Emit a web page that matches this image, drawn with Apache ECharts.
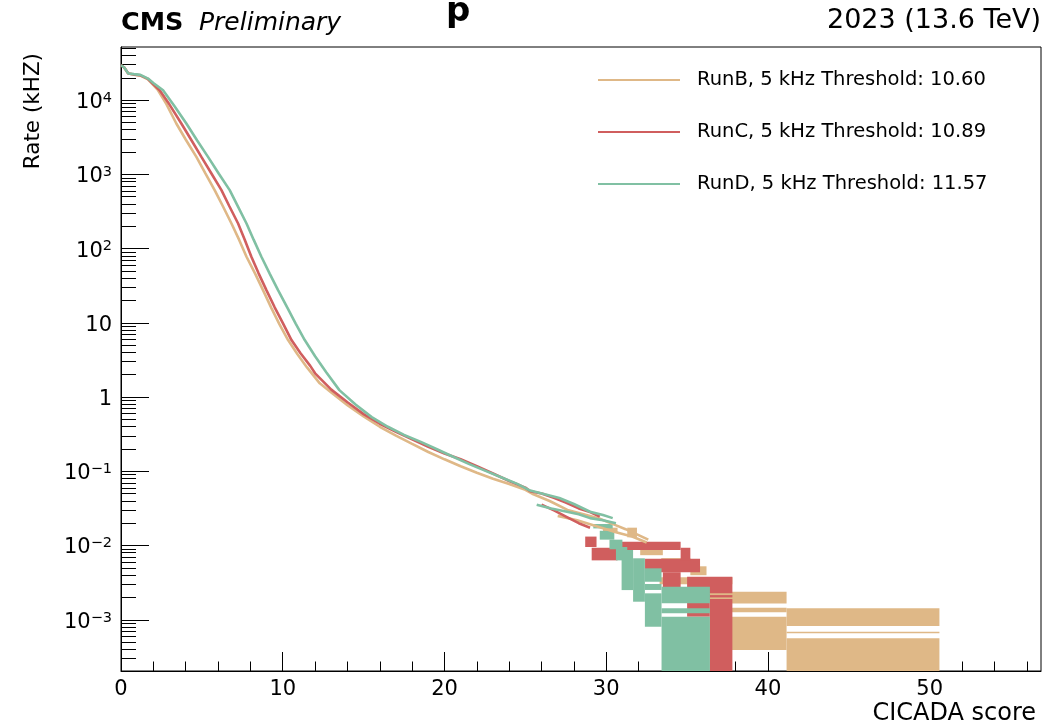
<!DOCTYPE html>
<html>
<head>
<meta charset="utf-8">
<script src="https://cdn.jsdelivr.net/npm/echarts@6/dist/echarts.min.js"></script>
<style>
html,body{margin:0;padding:0;background:#fff;}
#chart{width:1058px;height:728px;}
</style>
</head>
<body>
<div id="chart"></div>
<script>
// ---------- data (score, rate in kHz) ----------
const runNames = ['RunB, 5 kHz Threshold: 10.60', 'RunC, 5 kHz Threshold: 10.89', 'RunD, 5 kHz Threshold: 11.57'];
const runColors = ['#dfb887', '#d05e5e', '#80c0a3'];

const xMajorTicks = [0, 10, 20, 30, 40, 50];
const xMinorTicks = [2, 4, 6, 8, 12, 14, 16, 18, 22, 24, 26, 28, 32, 34, 36, 38, 42, 44, 46, 48, 52, 54, 56];
const yDecades = [-3, -2, -1, 0, 1, 2, 3, 4];   // tick labels 10^n

const runBCurve = [[0,29500],[0.2,27500],[0.45,22900],[0.8,22100],[1.2,21400],[1.67,19100],[2.29,13600],[2.8,8900],[3.42,4850],[4.0,2950],[4.66,1720],[5.2,1050],[5.79,614],[6.3,372],[6.83,218],[7.3,132],[7.76,77.6],[8.3,45.7],[8.78,27.6],[9.3,15.8],[9.8,9.55],[10.33,5.86],[10.9,3.80],[11.5,2.51],[12.29,1.53],[13.0,1.15],[14.0,0.776],[15.0,0.550],[16.0,0.398],[17.0,0.302],[18.0,0.234],[19.0,0.182],[20.0,0.145],[21.0,0.117],[22.0,0.0955],[23.0,0.0794],[24.0,0.0676],[25.0,0.0562],[25.5,0.0490],[26.5,0.0398],[27.6,0.0302],[28.6,0.0263],[29.6,0.0229],[30.5,0.0191],[31.2,0.0166],[32.0,0.0138],[32.6,0.0120]];
const runBLower = [[27.0,0.0251],[28.2,0.0219],[29.4,0.0182],[30.6,0.0151],[31.6,0.0132],[32.5,0.0110]];
const runBBoxes = [ // [score from, score to, rate low, rate high]
  [29.8,30.7,0.0148,0.0174],[31.3,31.9,0.0129,0.0174],[32.1,33.5,0.00741,0.00871],[33.4,35.2,0.00575,0.00676],
  [35.2,36.2,0.00398,0.00525],[33.3,37.8,0.00300,0.00375],
  [36.4,41.15,0.00166,0.00239],[36.4,41.15,0.00126,0.00145],[36.4,41.15,0.000392,0.00110],
  [41.15,50.6,0.000824,0.00143],[41.15,50.6,0.000656,0.000690],[41.15,50.6,0,0.000562]];

const runCCurve = [[0,29500],[0.2,27500],[0.45,22900],[0.8,22100],[1.2,21600],[1.67,19300],[2.39,13600],[3.0,8710],[3.73,4850],[4.3,3020],[4.97,1720],[5.6,1020],[6.21,614],[6.7,372],[7.24,218],[7.65,132],[8.06,77.6],[8.5,46.8],[8.99,27.6],[9.5,16.2],[10.0,10.0],[10.54,5.86],[11.1,3.89],[11.7,2.63],[12.0,2.09],[13.0,1.26],[14.0,0.851],[15.0,0.589],[16.0,0.437],[17.0,0.339],[18.0,0.269],[19.0,0.214],[20.0,0.174],[21.0,0.145],[22.0,0.117],[23.0,0.0933],[24.0,0.0741],[25.0,0.0603],[25.3,0.0537],[26.0,0.0501],[26.8,0.0437],[27.5,0.0380],[28.3,0.0316],[29.0,0.0282],[29.6,0.0245]];
const runCLower = [[26.0,0.0355],[26.8,0.0295],[27.6,0.0240],[28.3,0.0200],[29.0,0.0174]];
const runCBoxes = [
  [28.7,29.4,0.00955,0.0132],[29.1,30.7,0.00631,0.00933],[30.8,34.6,0.00871,0.0112],[32.4,35.8,0.00437,0.00661],
  [33.5,34.6,0.00275,0.00437],[34.6,35.2,0.00631,0.00933],[35.0,37.8,0.00227,0.00380],[35.0,36.4,0.00110,0.00227],
  [36.4,37.8,0.00200,0.00215],[36.4,37.8,0,0.00191]];

const runDCurve = [[0,29500],[0.2,27500],[0.45,22900],[0.8,22400],[1.2,21900],[1.67,19500],[2.0,17000],[2.6,13600],[3.3,8320],[4.04,4850],[4.7,2880],[5.38,1720],[6.05,1020],[6.72,614],[7.25,363],[7.76,218],[8.2,132],[8.68,77.6],[9.2,45.7],[9.71,27.6],[10.3,15.8],[10.8,9.77],[11.36,5.86],[12.0,3.55],[12.7,2.14],[13.5,1.24],[14.5,0.794],[15.5,0.537],[16.5,0.398],[17.5,0.309],[18.5,0.251],[19.5,0.200],[20.5,0.158],[21.5,0.126],[22.5,0.102],[23.5,0.0832],[24.5,0.0676],[25.3,0.0550],[26.2,0.0490],[27.1,0.0437],[28.0,0.0363],[29.0,0.0285],[29.8,0.0257],[30.4,0.0234]];
const runDLower = [[25.7,0.0355],[26.6,0.0316],[27.5,0.0288],[28.3,0.0263],[29.0,0.0234],[29.8,0.0219],[30.6,0.0200]];
const runDBoxes = [
  [29.2,30.4,0.0170,0.0195],[29.6,30.5,0.0120,0.0158],[30.2,31.0,0.00891,0.0120],[30.6,31.3,0.00631,0.00955],
  [30.95,31.66,0.00251,0.00871],[31.66,32.39,0.00175,0.00673],
  [32.39,33.42,0.000805,0.00227],[32.39,33.42,0.00252,0.00303],[32.39,33.42,0.00325,0.00493],
  [33.42,36.41,0,0.00110],[33.42,36.41,0.00122,0.00143],[33.42,36.41,0.00167,0.00279]];

// ---------- axis ranges ----------
const RATE_MIN = 2.04e-4, RATE_MAX = 5.2e4;
const X_MIN = 0, X_MAX = 56.88;

// ---------- helpers ----------
const FONT = '"DejaVu Sans", "Liberation Sans", Arial, sans-serif';
const Y_MIN = Math.log10(RATE_MIN), Y_MAX = Math.log10(RATE_MAX);
function lg(v) { return v > 0 ? Math.log10(v) : Y_MIN - 0.5; }

const yMinorTicks = [];
for (let n = -4; n <= 4; n++) {
  for (let k = 2; k <= 9; k++) {
    const v = Math.log10(k) + n;
    if (v > Y_MIN && v < Y_MAX) yMinorTicks.push(v);
  }
}

function decadeLabel(v) {
  const e = Math.round(v);
  if (e === 0) return '{b|1}';
  if (e === 1) return '{b|10}';
  return '{b|10}{s|' + (e < 0 ? '\u2212' + (-e) : String(e)) + '}';
}

function lineSeries(name, pts, color) {
  return {
    type: 'line', name: name, xAxisIndex: 0, yAxisIndex: 0,
    data: pts.map(p => [p[0], lg(p[1])]),
    symbol: 'none', showSymbol: false, smooth: false,
    lineStyle: { color: color, width: 2.6 }, itemStyle: { color: color },
    emphasis: { disabled: true }, silent: true, animation: false, clip: true
  };
}
function boxSeries(name, boxes, color) {
  return {
    type: 'custom', name: name, xAxisIndex: 0, yAxisIndex: 0,
    data: boxes.map(b => [b[0], b[1], lg(b[2]), lg(b[3])]),
    encode: { x: [0, 1], y: [2, 3] },
    clip: true, silent: true, animation: false,
    renderItem: function (params, api) {
      const a = api.coord([api.value(0), api.value(3)]);
      const b = api.coord([api.value(1), api.value(2)]);
      return { type: 'rect', shape: { x: a[0], y: a[1], width: b[0] - a[0], height: b[1] - a[1] },
               style: { fill: color } };
    }
  };
}

const chart = echarts.init(document.getElementById('chart'), null, { renderer: 'canvas' });

const option = {
  backgroundColor: '#ffffff',
  animation: false,
  textStyle: { fontFamily: FONT },
  grid: { left: 121, right: 17, top: 47, bottom: 57, show: true, borderColor: '#000', borderWidth: 1, backgroundColor: 'transparent' },
  xAxis: [
    { type: 'value', min: X_MIN, max: X_MAX, position: 'bottom',
      axisLine: { show: true, onZero: false, lineStyle: { color: '#000', width: 1 } },
      axisTick: { show: true, inside: true, length: 19, customValues: xMajorTicks, lineStyle: { color: '#000', width: 1 } },
      axisLabel: { show: true, customValues: xMajorTicks, fontSize: 21, color: '#000', fontFamily: FONT, margin: 8 },
      splitLine: { show: false } },
    { type: 'value', min: X_MIN, max: X_MAX, position: 'bottom', offset: 0,
      axisLine: { show: false, onZero: false },
      axisTick: { show: true, inside: true, length: 9.5, customValues: xMinorTicks, lineStyle: { color: '#000', width: 1 } },
      axisLabel: { show: false }, splitLine: { show: false } }
  ],
  yAxis: [
    { type: 'value', min: Y_MIN, max: Y_MAX, position: 'left',
      axisLine: { show: true, onZero: false, lineStyle: { color: '#000', width: 1 } },
      axisTick: { show: true, inside: true, length: 28, customValues: yDecades, lineStyle: { color: '#000', width: 1 } },
      axisLabel: { show: true, customValues: yDecades, formatter: decadeLabel, margin: 9, padding: [5, 0, 0, 0],
        rich: {
          b: { fontSize: 21, lineHeight: 24, color: '#000', fontFamily: FONT },
          s: { fontSize: 14.5, lineHeight: 14, verticalAlign: 'top', color: '#000', fontFamily: FONT }
        } },
      splitLine: { show: false } },
    { type: 'value', min: Y_MIN, max: Y_MAX, position: 'left', offset: 0,
      axisLine: { show: false, onZero: false },
      axisTick: { show: true, inside: true, length: 15, customValues: yMinorTicks, lineStyle: { color: '#000', width: 1 } },
      axisLabel: { show: false }, splitLine: { show: false } }
  ],
  legend: {
    data: runNames.map(n => ({ name: n, icon: 'rect' })),
    orient: 'vertical', left: 593, top: 64,
    itemWidth: 82, itemHeight: 2, itemGap: 30, selectedMode: false,
    textStyle: { fontSize: 19.5, color: '#000', fontFamily: FONT, lineHeight: 22, padding: [0, 0, 0, 12] }
  },
  series: [
    lineSeries(runNames[0], runBCurve, runColors[0]),
    lineSeries('RunB lower', runBLower, runColors[0]),
    boxSeries('RunB boxes', runBBoxes, runColors[0]),
    lineSeries(runNames[1], runCCurve, runColors[1]),
    lineSeries('RunC lower', runCLower, runColors[1]),
    boxSeries('RunC boxes', runCBoxes, runColors[1]),
    lineSeries(runNames[2], runDCurve, runColors[2]),
    lineSeries('RunD lower', runDLower, runColors[2]),
    boxSeries('RunD boxes', runDBoxes, runColors[2])
  ],
  graphic: [
    { type: 'text', x: 121, y: 23, silent: true,
      style: { text: 'CMS', font: 'bold 25.5px ' + FONT, fill: '#000', align: 'left', verticalAlign: 'middle', textAlign: 'left', textVerticalAlign: 'middle' } },
    { type: 'text', x: 199, y: 23, silent: true,
      style: { text: 'Preliminary', font: 'italic 25px ' + FONT, fill: '#000', align: 'left', verticalAlign: 'middle', textAlign: 'left', textVerticalAlign: 'middle' } },
    { type: 'text', x: 1041, y: 21, silent: true,
      style: { text: '2023 (13.6 TeV)', font: '27px ' + FONT, fill: '#000', align: 'right', verticalAlign: 'middle', textAlign: 'right', textVerticalAlign: 'middle' } },
    { type: 'text', x: 446, y: 29, silent: true,
      style: { text: 'p', font: 'bold 34px ' + FONT, fill: '#000', align: 'left', verticalAlign: 'bottom', textAlign: 'left', textVerticalAlign: 'bottom' } },
    { type: 'text', x: 33, y: 53, rotation: Math.PI / 2, silent: true,
      style: { text: 'Rate (kHZ)', font: '21.5px ' + FONT, fill: '#000', align: 'right', verticalAlign: 'middle', textAlign: 'right', textVerticalAlign: 'middle' } },
    { type: 'text', x: 1036, y: 714, silent: true,
      style: { text: 'CICADA score', font: '24px ' + FONT, fill: '#000', align: 'right', verticalAlign: 'middle', textAlign: 'right', textVerticalAlign: 'middle' } }
  ]
};
chart.setOption(option);
</script>
</body>
</html>
